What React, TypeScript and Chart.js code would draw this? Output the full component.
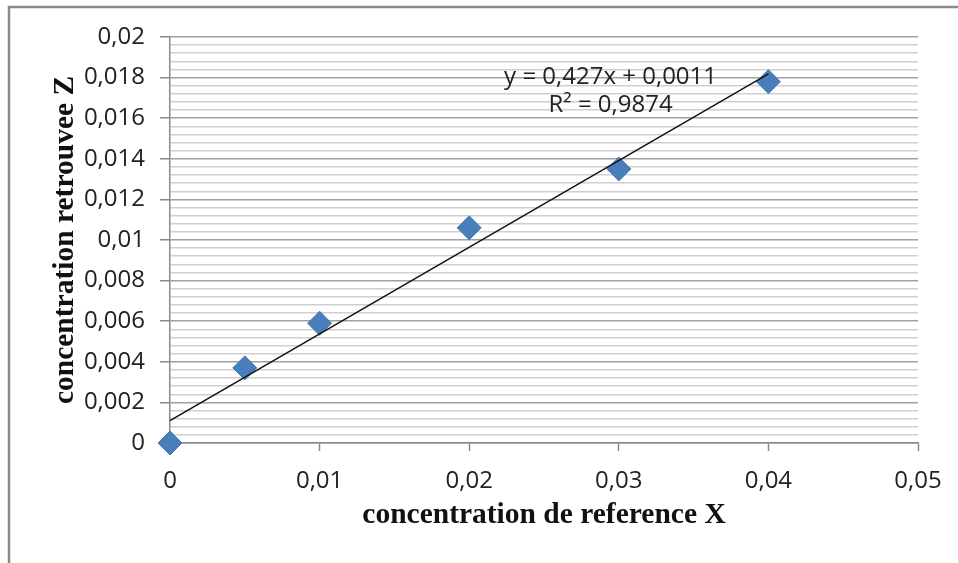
import React, { useEffect, useRef } from 'react';
import { Chart, registerables } from 'chart.js';

Chart.register(...registerables);

// ---- data ----
const xValues = [0, 0.005, 0.01, 0.02, 0.03, 0.04];
const yValues = [0, 0.0037, 0.0059, 0.0106, 0.0135, 0.0178];
const trendSlope = 0.427;
const trendIntercept = 0.0011;
const trendXRange = [0, 0.04];
const xTickLabels = ['0', '0,01', '0,02', '0,03', '0,04', '0,05'];
const yTickLabels = ['0', '0,002', '0,004', '0,006', '0,008', '0,01', '0,012', '0,014', '0,016', '0,018', '0,02'];
const equationLines = ['y = 0,427x + 0,0011', 'R² = 0,9874'];
const xTitle = 'concentration de reference X';
const yTitle = 'concentration retrouvee Z';

const TICK_FONT = { family: '"Open Sans", sans-serif', size: 24 };
const TITLE_FONT = { family: '"Liberation Serif", "Times New Roman", serif', size: 29.5, weight: 'bold' as const };

const W = 958;
const H = 563;

const framePlugin = {
  id: 'frame',
  beforeDraw(chart: any) {
    const ctx = chart.ctx;
    ctx.save();
    ctx.fillStyle = '#ffffff';
    ctx.fillRect(0, 0, chart.width, chart.height);
    ctx.strokeStyle = '#8a8a8a';
    ctx.lineWidth = 2.5;
    ctx.beginPath();
    ctx.moveTo(9, chart.height + 5);
    ctx.lineTo(9, 7);
    ctx.lineTo(chart.width + 5, 7);
    ctx.stroke();
    ctx.restore();
  },
};

const equationPlugin = {
  id: 'equation',
  afterDatasetsDraw(chart: any) {
    const ctx = chart.ctx;
    const xs = chart.scales.x;
    const ys = chart.scales.y;
    const cx = xs.getPixelForValue(0.02945);
    const y1 = ys.getPixelForValue(0.01803);
    const y2 = ys.getPixelForValue(0.01665);
    ctx.save();
    ctx.fillStyle = '#222222';
    ctx.font = `${TICK_FONT.size}px ${TICK_FONT.family}`;
    ctx.textAlign = 'center';
    ctx.textBaseline = 'middle';
    ctx.fillText(equationLines[0], cx, y1);
    ctx.fillText(equationLines[1], cx, y2);
    ctx.restore();
  },
};

export default function App() {
  const ref = useRef<HTMLCanvasElement | null>(null);

  useEffect(() => {
    if (!ref.current) return;
    const trendData = trendXRange.map((x) => ({ x, y: trendSlope * x + trendIntercept }));
    const pointData = xValues.map((x, i) => ({ x, y: yValues[i] }));

    const chart = new Chart(ref.current, {
      type: 'scatter',
      data: {
        datasets: [
          {
            type: 'line',
            label: 'trend',
            data: trendData,
            borderColor: '#111111',
            borderWidth: 1.4,
            pointRadius: 0,
            showLine: true,
            fill: false,
          } as any,
          {
            label: 'Z',
            data: pointData,
            pointStyle: 'rectRot',
            pointRadius: 12,
            backgroundColor: '#4a7ebb',
            borderColor: '#4577b3',
            borderWidth: 1,
            clip: false,
          } as any,
        ],
      },
      plugins: [framePlugin, equationPlugin],
      options: {
        responsive: false,
        animation: false,
        devicePixelRatio: 1,
        layout: { padding: { left: 0, top: 37, right: 40, bottom: 0 } },
        plugins: { legend: { display: false }, tooltip: { enabled: false } },
        scales: {
          x: {
            type: 'linear',
            min: 0,
            max: 0.05,
            afterFit: (s: any) => {
              s.height = 120;
            },
            ticks: {
              stepSize: 0.01,
              autoSkip: false,
              maxRotation: 0,
              color: '#222222',
              font: TICK_FONT,
              padding: 16,
              callback: (_v: any, i: number) => xTickLabels[i],
            },
            grid: {
              drawOnChartArea: false,
              drawTicks: true,
              tickLength: 8,
              tickColor: '#8a8a8a',
              tickWidth: 1.5,
            },
            border: { color: '#8a8a8a', width: 1.5 },
            title: {
              display: true,
              text: xTitle,
              color: '#111111',
              font: TITLE_FONT,
              padding: { top: 0, bottom: 30 },
            },
          },
          y: {
            type: 'linear',
            min: 0,
            max: 0.02,
            afterFit: (s: any) => {
              s.width = 170;
            },
            ticks: {
              stepSize: 0.0004,
              autoSkip: false,
              color: '#222222',
              font: TICK_FONT,
              padding: 15,
              callback: (_v: any, i: number) => (i % 5 === 0 ? yTickLabels[i / 5] : ''),
            },
            grid: {
              drawTicks: true,
              tickLength: 10,
              color: (c: any) => (c.index % 5 === 0 ? '#a0a0a0' : '#cfcfcf'),
              lineWidth: 1.5,
              tickColor: (c: any) => (c.index % 5 === 0 ? '#8a8a8a' : 'rgba(0,0,0,0)'),
              tickWidth: 1.5,
            },
            border: { color: '#8a8a8a', width: 1.5 },
            title: {
              display: true,
              text: yTitle,
              color: '#111111',
              font: TITLE_FONT,
              padding: { top: 48, bottom: 0 },
            },
          },
        },
      },
    });
    return () => chart.destroy();
  }, []);

  return (
    <div style={{ position: 'absolute', left: 0, top: 0, width: W, height: H, background: '#fff' }}>
      <canvas ref={ref} width={W} height={H} style={{ display: 'block', width: W, height: H }} />
    </div>
  );
}
